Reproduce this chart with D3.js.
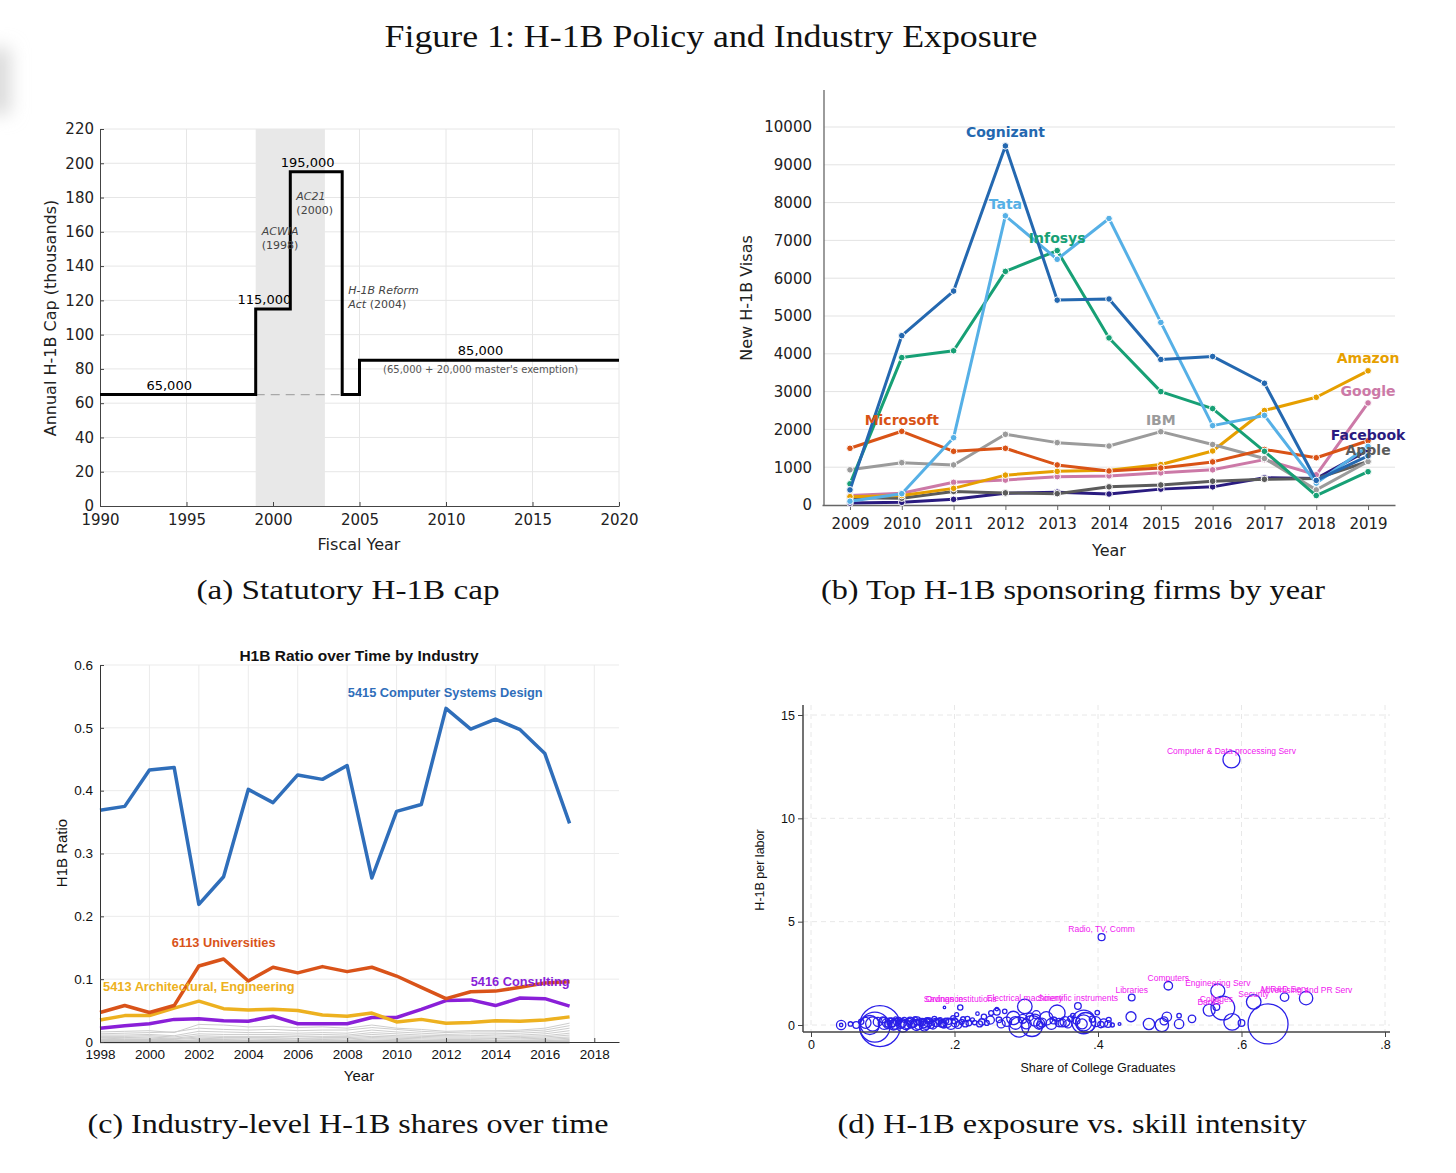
<!DOCTYPE html>
<html>
<head>
<meta charset="utf-8">
<script src="https://cdn.jsdelivr.net/npm/d3@7"></script>
<style>
  body { margin: 0; background: #fff; }
  svg { display: block; }
</style>
</head>
<body>
<svg id="fig" width="1456" height="1173"></svg>
<script>
// ---------- (a) statutory cap ----------
var capYears = [1990, 1999, 2001, 2004, 2005, 2020];
var capValues = [65, 115, 195, 65, 85, 85];
var capNotes = [
  { year: 1994, value: 65, text: "65,000" },
  { year: 1999.5, value: 115, text: "115,000" },
  { year: 2002, value: 195, text: "195,000" },
  { year: 2012, value: 85, text: "85,000" }
];
var lawNotes = [
  { year: 1999.35, value: 158, name: "ACWIA", when: "(1998)" },
  { year: 2001.35, value: 178.5, name: "AC21", when: "(2000)" },
  { year: 2004.35, value: 123.5, name: "H-1B Reform", when: "Act", when2: " (2004)" }
];

// ---------- (b) top sponsoring firms ----------
var firmYears = [2009, 2010, 2011, 2012, 2013, 2014, 2015, 2016, 2017, 2018, 2019];
var firms = ["Facebook", "Apple", "Google", "Amazon", "IBM", "Microsoft", "Infosys", "Tata", "Cognizant"];
var firmColors = ["#2a1b80", "#5b5b5b", "#cc79a7", "#e69f00", "#9b9b9b", "#d95316", "#17a075", "#56b0e6", "#2468b0"];
var facebook  = [50, 70, 150, 310, 340, 290, 420, 480, 720, 700, 1450];
var apple     = [190, 180, 360, 320, 300, 480, 530, 630, 680, 700, 1150];
var google    = [250, 310, 600, 660, 750, 770, 850, 930, 1200, 800, 2700];
var amazon    = [220, 250, 440, 790, 890, 920, 1070, 1430, 2500, 2850, 3550];
var ibm       = [930, 1120, 1060, 1870, 1650, 1560, 1940, 1600, 1230, 400, 1150];
var microsoft = [1500, 1950, 1420, 1500, 1060, 900, 980, 1140, 1470, 1250, 1700];
var infosys   = [560, 3900, 4080, 6180, 6730, 4420, 3000, 2550, 1420, 250, 880];
var tata      = [100, 300, 1780, 7650, 6500, 7580, 4830, 2100, 2370, 580, 1550];
var cognizant = [400, 4480, 5660, 9500, 5420, 5450, 3850, 3930, 3220, 650, 1300];
var firmSeries = [facebook, apple, google, amazon, ibm, microsoft, infosys, tata, cognizant];
var firmLabelYear  = [2019, 2019, 2019, 2019, 2015, 2010, 2013, 2012, 2012];
var firmLabelValue = [1850, 1450, 3020, 3890, 2250, 2250, 7060, 7960, 9870];

// ---------- (c) industry shares ----------
var indYears = d3.range(1998, 2018);
var compSys  = [0.369, 0.375, 0.433, 0.437, 0.219, 0.263, 0.402, 0.381, 0.425, 0.418, 0.440, 0.261, 0.367, 0.378, 0.531, 0.498, 0.514, 0.497, 0.459, 0.348];
var univ     = [0.047, 0.058, 0.047, 0.058, 0.121, 0.132, 0.097, 0.119, 0.110, 0.120, 0.112, 0.119, 0.105, 0.087, 0.069, 0.080, 0.081, 0.087, 0.094, 0.096];
var archEng  = [0.035, 0.042, 0.042, 0.054, 0.065, 0.053, 0.051, 0.052, 0.050, 0.043, 0.041, 0.046, 0.032, 0.036, 0.030, 0.031, 0.034, 0.033, 0.035, 0.040];
var consult  = [0.022, 0.026, 0.029, 0.036, 0.037, 0.034, 0.033, 0.041, 0.029, 0.029, 0.029, 0.039, 0.039, 0.052, 0.066, 0.067, 0.058, 0.070, 0.069, 0.057];
var otherInd = [
  [0.016, 0.017, 0.018, 0.015, 0.028, 0.027, 0.024, 0.025, 0.023, 0.024, 0.022, 0.027, 0.022, 0.020, 0.017, 0.018, 0.018, 0.019, 0.022, 0.030],
  [0.013, 0.014, 0.015, 0.016, 0.022, 0.020, 0.019, 0.020, 0.018, 0.019, 0.019, 0.023, 0.020, 0.017, 0.015, 0.016, 0.016, 0.017, 0.019, 0.026],
  [0.011, 0.011, 0.012, 0.010, 0.017, 0.016, 0.015, 0.015, 0.014, 0.015, 0.014, 0.019, 0.016, 0.014, 0.012, 0.013, 0.013, 0.014, 0.016, 0.022],
  [0.009, 0.009, 0.010, 0.008, 0.013, 0.012, 0.012, 0.012, 0.011, 0.012, 0.011, 0.015, 0.013, 0.011, 0.010, 0.010, 0.011, 0.011, 0.013, 0.018],
  [0.007, 0.007, 0.008, 0.006, 0.010, 0.009, 0.009, 0.009, 0.009, 0.009, 0.009, 0.012, 0.010, 0.009, 0.008, 0.008, 0.008, 0.009, 0.010, 0.014],
  [0.005, 0.006, 0.006, 0.005, 0.008, 0.007, 0.007, 0.007, 0.006, 0.007, 0.007, 0.009, 0.008, 0.007, 0.006, 0.006, 0.006, 0.007, 0.008, 0.011],
  [0.004, 0.004, 0.004, 0.004, 0.006, 0.005, 0.005, 0.005, 0.005, 0.005, 0.005, 0.007, 0.006, 0.005, 0.004, 0.004, 0.005, 0.005, 0.006, 0.008],
  [0.003, 0.003, 0.003, 0.002, 0.004, 0.004, 0.003, 0.004, 0.003, 0.004, 0.003, 0.005, 0.004, 0.003, 0.003, 0.003, 0.003, 0.003, 0.004, 0.006],
  [0.002, 0.002, 0.002, 0.001, 0.002, 0.002, 0.002, 0.002, 0.002, 0.002, 0.002, 0.003, 0.002, 0.002, 0.002, 0.002, 0.002, 0.002, 0.002, 0.004],
  [0.001, 0.001, 0.001, 0.001, 0.001, 0.001, 0.001, 0.001, 0.001, 0.001, 0.001, 0.001, 0.001, 0.001, 0.001, 0.001, 0.001, 0.001, 0.001, 0.002]
];
var mainInd = [
  { name: "5415 Computer Systems Design", values: compSys, color: "#2f6eba", ly: 2011.97, lv: 0.557 },
  { name: "6113 Universities", values: univ, color: "#d95319", ly: 2003, lv: 0.158 },
  { name: "5413 Architectural, Engineering", values: archEng, color: "#edb120", ly: 2002, lv: 0.089 },
  { name: "5416 Consulting", values: consult, color: "#8a1fd8", ly: 2015, lv: 0.0955 }
];

// ---------- (d) exposure vs skill ----------
// share of college graduates, H-1B per labor, weight (employment)
var skillShare = [0.586, 0.405, 0.498, 0.567, 0.447, 0.617, 0.660, 0.690, 0.555, 0.565, 0.298, 0.372, 0.186, 0.208,
  0.637, 0.574, 0.587, 0.600, 0.471, 0.489, 0.492, 0.496, 0.513, 0.513, 0.531, 0.446, 0.430,
  0.096, 0.089, 0.082, 0.380, 0.380, 0.378, 0.383, 0.397, 0.408, 0.414, 0.328, 0.343, 0.354,
  0.282, 0.273, 0.259, 0.250, 0.241, 0.312, 0.319, 0.290, 0.308, 0.042, 0.042, 0.055, 0.063, 0.070,
  0.105, 0.110, 0.115, 0.120, 0.125, 0.130, 0.135, 0.140, 0.145, 0.150, 0.155, 0.160, 0.165, 0.170,
  0.175, 0.180, 0.185, 0.190, 0.195, 0.200, 0.205, 0.210, 0.215, 0.100, 0.118, 0.128, 0.148, 0.158,
  0.172, 0.188, 0.198, 0.203, 0.220, 0.225, 0.232, 0.235, 0.245, 0.251, 0.259, 0.265, 0.270, 0.300,
  0.322, 0.335, 0.350, 0.362, 0.365, 0.358, 0.370, 0.399, 0.415, 0.420, 0.314, 0.108, 0.113, 0.138,
  0.143, 0.163, 0.178, 0.183, 0.212, 0.228,
  0.076, 0.086, 0.093, 0.102, 0.107, 0.112, 0.117, 0.122, 0.127, 0.132, 0.137, 0.142, 0.147, 0.152,
  0.157, 0.162, 0.167, 0.174, 0.182, 0.192, 0.201, 0.218, 0.238, 0.262, 0.285, 0.295, 0.305, 0.318,
  0.338, 0.346, 0.392, 0.404];
var h1bPerLabor = [12.85, 4.25, 1.90, 1.65, 1.33, 1.12, 1.35, 1.30, 0.72, 0.87, 0.90, 0.92, 0.85, 0.85,
  0.05, 0.82, 0.15, 0.10, 0.05, 0.00, 0.20, 0.40, 0.45, 0.05, 0.30, 0.40, 0.05,
  -0.05, -0.10, 0.00, 0.15, 0.10, 0.05, 0.12, 0.16, 0.10, 0.05, 0.32, 0.58, 0.16,
  0.34, 0.16, 0.64, 0.24, 0.40, 0.24, 0.00, -0.10, -0.05, 0.00, 0.00, 0.05, 0.00, 0.16,
  0.10, 0.20, 0.00, 0.15, 0.05, 0.25, 0.00, 0.10, 0.30, 0.00, 0.15, 0.05, 0.20, 0.00,
  0.10, 0.25, 0.00, 0.10, 0.05, 0.20, 0.00, 0.15, 0.05, 0.25, 0.30, -0.05, 0.20, -0.05,
  0.30, 0.20, 0.35, 0.50, 0.10, 0.25, 0.55, 0.05, 0.10, 0.58, 0.77, 0.05, 0.66, 0.05,
  0.12, 0.05, 0.10, 0.30, 0.45, 0.05, 0.20, 0.60, 0.25, 0.00, 0.50, 0.05, 0.12, 0.20,
  0.05, 0.12, 0.18, 0.08, 0.28, 0.12,
  0.10, 0.05, 0.15, 0.08, 0.00, 0.12, 0.05, 0.22, 0.10, 0.02, 0.18, 0.06, 0.00, 0.14,
  0.08, 0.22, 0.02, 0.12, 0.06, 0.18, 0.10, 0.30, 0.15, 0.25, 0.10, 0.30, 0.40, 0.06,
  0.22, 0.12, 0.28, 0.02];
var employment = [72, 12, 18, 49, 11, 53, 18, 45, 36, 11, 53, 11, 1.5, 7,
  400, 140, 69, 11, 32, 45, 16, 22, 5, 22, 14, 25, 2,
  420, 225, 90, 140, 64, 25, 100, 25, 16, 11, 45, 64, 25,
  45, 22, 11, 16, 7, 36, 11, 100, 110, 22, 3, 5, 11, 7,
  16, 9, 25, 12, 20, 6, 16, 25, 5, 20, 12, 30, 9, 16,
  12, 5, 9, 20, 30, 9, 12, 6, 9, 9, 4, 36, 16, 25,
  6, 8, 5, 4, 8, 4, 3, 9, 6, 6, 3, 16, 5, 25,
  20, 30, 16, 9, 5, 16, 12, 5, 6, 4, 16, 12, 20, 14,
  10, 18, 9, 14, 6, 5,
  30, 50, 20, 36, 14, 20, 28, 10, 18, 24, 9, 16, 30, 12,
  20, 8, 14, 18, 12, 10, 16, 6, 10, 8, 40, 20, 14, 30,
  12, 18, 9, 10];
var industryLabels = ["Computer & Data processing Serv", "Radio, TV, Comm", "Computers", "Engineering Serv",
  "Libraries", "Security", "M R&D Serv", "Advertising and PR Serv", "Banks", "Colleges",
  "Electrical machinery", "Scientific instruments", "Ordnance", "Savings institutions"];

// ---------------------------------------------------------------
var svg = d3.select("#fig");
var serif = "'Liberation Serif', 'DejaVu Serif', serif";
var dejavu = "'DejaVu Sans', sans-serif";
var arial = "'Liberation Sans', Arial, sans-serif";

// faint shadow on the left edge
var defs = svg.append("defs");
defs.append("filter").attr("id", "soft").attr("x", "-100%").attr("y", "-100%").attr("width", "300%").attr("height", "300%")
  .append("feGaussianBlur").attr("stdDeviation", 9);
svg.append("rect").attr("x", -14).attr("y", 48).attr("width", 24).attr("height", 66)
  .attr("fill", "#d9d9d9").attr("filter", "url(#soft)");

svg.append("text")
  .attr("x", 711).attr("y", 47).attr("text-anchor", "middle")
  .attr("textLength", 653).attr("lengthAdjust", "spacingAndGlyphs")
  .style("font-family", serif).style("font-size", "31px").style("fill", "#111")
  .text("Figure 1: H-1B Policy and Industry Exposure");

var captions = [
  { text: "(a) Statutory H-1B cap", x: 348, y: 599, w: 303 },
  { text: "(b) Top H-1B sponsoring firms by year", x: 1073, y: 599, w: 504 },
  { text: "(c) Industry-level H-1B shares over time", x: 348, y: 1133, w: 521 },
  { text: "(d) H-1B exposure vs. skill intensity", x: 1072, y: 1133, w: 469 }
];
svg.selectAll("text.caption").data(captions).join("text")
  .attr("class", "caption")
  .attr("x", function(d) { return d.x; }).attr("y", function(d) { return d.y; })
  .attr("text-anchor", "middle")
  .attr("textLength", function(d) { return d.w; }).attr("lengthAdjust", "spacingAndGlyphs")
  .style("font-family", serif).style("font-size", "27px").style("fill", "#111")
  .text(function(d) { return d.text; });

function styleAxis(g, font, size, color) {
  g.selectAll("text").style("font-family", font).style("font-size", size).style("fill", color || "#222");
  g.select(".domain").attr("stroke", "#444");
  g.selectAll(".tick line").attr("stroke", "#444");
}

// ================= panel (a) =================
(function() {
  var x = d3.scaleLinear().domain([1990, 2020]).range([100, 619]);
  var y = d3.scaleLinear().domain([0, 220]).range([506, 129]);
  var g = svg.append("g");

  g.selectAll("line.gy").data(d3.range(20, 221, 20)).join("line")
    .attr("x1", x(1990)).attr("x2", x(2020))
    .attr("y1", function(d) { return y(d); }).attr("y2", function(d) { return y(d); })
    .attr("stroke", "#e6e6e6");
  g.selectAll("line.gx").data(d3.range(1995, 2021, 5)).join("line")
    .attr("y1", y(0)).attr("y2", y(220))
    .attr("x1", function(d) { return x(d); }).attr("x2", function(d) { return x(d); })
    .attr("stroke", "#e6e6e6");

  g.append("rect")
    .attr("x", x(1999)).attr("width", x(2003) - x(1999))
    .attr("y", y(220)).attr("height", y(0) - y(220))
    .attr("fill", "#e8e8e8");

  var ax = g.append("g").attr("transform", "translate(0," + y(0) + ")")
    .call(d3.axisBottom(x).tickValues(d3.range(1990, 2021, 5)).tickFormat(d3.format("d")).tickSize(-4).tickPadding(8).tickSizeOuter(0));
  styleAxis(ax, dejavu, "15px");
  var ay = g.append("g").attr("transform", "translate(" + x(1990) + ",0)")
    .call(d3.axisLeft(y).tickValues(d3.range(0, 221, 20)).tickSize(-4).tickPadding(6).tickSizeOuter(0));
  styleAxis(ay, dejavu, "15px");

  g.append("line")
    .attr("x1", x(1999)).attr("x2", x(2004)).attr("y1", y(65)).attr("y2", y(65))
    .attr("stroke", "#a8a8a8").attr("stroke-width", 1.3).attr("stroke-dasharray", "9,6");

  var pts = capYears.map(function(yr, i) { return [yr, capValues[i]]; });
  g.append("path").datum(pts)
    .attr("d", d3.line().x(function(d) { return x(d[0]); }).y(function(d) { return y(d[1]); }).curve(d3.curveStepAfter))
    .attr("fill", "none").attr("stroke", "#000").attr("stroke-width", 3);

  g.selectAll("text.cap").data(capNotes).join("text")
    .attr("x", function(d) { return x(d.year); }).attr("y", function(d) { return y(d.value) - 5; })
    .attr("text-anchor", "middle")
    .style("font-family", dejavu).style("font-size", "13px").style("fill", "#000")
    .text(function(d) { return d.text; });
  g.append("text")
    .attr("x", x(2012)).attr("y", y(85) + 13).attr("text-anchor", "middle")
    .style("font-family", dejavu).style("font-size", "10px").style("fill", "#555")
    .text("(65,000 + 20,000 master's exemption)");

  lawNotes.forEach(function(d) {
    var t1 = g.append("text").attr("x", x(d.year)).attr("y", y(d.value))
      .style("font-family", dejavu).style("font-size", "11px").style("fill", "#444");
    t1.append("tspan").style("font-style", "italic").text(d.name);
    var t2 = g.append("text").attr("x", x(d.year)).attr("y", y(d.value) + 14)
      .style("font-family", dejavu).style("font-size", "11px").style("fill", "#444");
    if (d.when2) {
      t2.append("tspan").style("font-style", "italic").text(d.when);
      t2.append("tspan").text(d.when2);
    } else {
      t2.text(d.when);
    }
  });

  g.append("text")
    .attr("transform", "translate(56," + 318 + ") rotate(-90)")
    .attr("text-anchor", "middle")
    .style("font-family", dejavu).style("font-size", "16px").style("fill", "#222")
    .text("Annual H-1B Cap (thousands)");
  g.append("text")
    .attr("x", 359).attr("y", 550).attr("text-anchor", "middle")
    .style("font-family", dejavu).style("font-size", "16px").style("fill", "#222")
    .text("Fiscal Year");
})();

// ================= panel (b) =================
(function() {
  var x = d3.scaleLinear().domain([2008.46, 2019.52]).range([822, 1395]);
  var y = d3.scaleLinear().domain([0, 10000]).range([505, 127]);
  var g = svg.append("g");

  g.selectAll("line.gy").data(d3.range(1000, 10001, 1000)).join("line")
    .attr("x1", 824).attr("x2", 1395)
    .attr("y1", function(d) { return y(d); }).attr("y2", function(d) { return y(d); })
    .attr("stroke", "#e3e3e3").attr("stroke-width", 1);

  var ax = g.append("g").attr("transform", "translate(0," + y(0) + ")")
    .call(d3.axisBottom(x).tickValues(firmYears).tickFormat(d3.format("d")).tickSize(5).tickPadding(8).tickSizeOuter(0));
  styleAxis(ax, dejavu, "15px");
  ax.select(".domain").attr("stroke", "#666").attr("stroke-width", 1.3);
  ax.selectAll(".tick line").attr("stroke", "#666");

  var ay = g.append("g").attr("transform", "translate(824,0)")
    .call(d3.axisLeft(y).tickValues(d3.range(0, 10001, 1000)).tickFormat(d3.format("d")).tickSize(0).tickPadding(12));
  styleAxis(ay, dejavu, "15px");
  ay.select(".domain").remove();
  g.append("line").attr("x1", 824).attr("x2", 824).attr("y1", 90).attr("y2", y(0))
    .attr("stroke", "#666").attr("stroke-width", 1.3);

  var line = d3.line().x(function(d) { return x(d[0]); }).y(function(d) { return y(d[1]); });
  firms.forEach(function(name, i) {
    var pts = firmYears.map(function(yr, j) { return [yr, firmSeries[i][j]]; });
    var s = g.append("g");
    s.append("path").datum(pts).attr("d", line)
      .attr("fill", "none").attr("stroke", firmColors[i]).attr("stroke-width", 3)
      .attr("stroke-linejoin", "round");
    s.selectAll("circle").data(pts).join("circle")
      .attr("cx", function(d) { return x(d[0]); }).attr("cy", function(d) { return y(d[1]); })
      .attr("r", 3.3).attr("fill", firmColors[i]).attr("stroke", "#fff").attr("stroke-width", 1);
  });
  firms.forEach(function(name, i) {
    g.append("text")
      .attr("x", x(firmLabelYear[i])).attr("y", y(firmLabelValue[i]))
      .attr("text-anchor", "middle").attr("dominant-baseline", "central")
      .style("font-family", dejavu).style("font-size", "14px").style("font-weight", "bold")
      .style("fill", firmColors[i])
      .text(name);
  });

  g.append("text")
    .attr("transform", "translate(752,298) rotate(-90)")
    .attr("text-anchor", "middle")
    .style("font-family", dejavu).style("font-size", "16px").style("fill", "#222")
    .text("New H-1B Visas");
  g.append("text")
    .attr("x", 1109).attr("y", 556).attr("text-anchor", "middle")
    .style("font-family", dejavu).style("font-size", "16px").style("fill", "#222")
    .text("Year");
})();

// ================= panel (c) =================
(function() {
  var x = d3.scaleLinear().domain([1998, 2019]).range([100, 619]);
  var y = d3.scaleLinear().domain([0, 0.6]).range([1042, 665]);
  var g = svg.append("g");

  g.selectAll("line.gy").data(d3.range(1, 7).map(function(d) { return d / 10; })).join("line")
    .attr("x1", x(1998)).attr("x2", x(2019))
    .attr("y1", function(d) { return y(d); }).attr("y2", function(d) { return y(d); })
    .attr("stroke", "#ebebeb");
  g.selectAll("line.gx").data(d3.range(2000, 2019, 2)).join("line")
    .attr("y1", y(0)).attr("y2", y(0.6))
    .attr("x1", function(d) { return x(d); }).attr("x2", function(d) { return x(d); })
    .attr("stroke", "#ebebeb");

  var line = d3.line().x(function(d) { return x(d[0]); }).y(function(d) { return y(d[1]); });
  otherInd.forEach(function(vals) {
    g.append("path").datum(indYears.map(function(yr, j) { return [yr, vals[j]]; }))
      .attr("d", line).attr("fill", "none").attr("stroke", "#cdcdcd").attr("stroke-width", 1);
  });
  // thick floor of near-zero industries
  g.append("path").datum(indYears.map(function(yr) { return [yr, 0]; }))
    .attr("d", line).attr("fill", "none").attr("stroke", "#c4c4c4").attr("stroke-width", 3);

  mainInd.slice().reverse().forEach(function(s) {
    g.append("path").datum(indYears.map(function(yr, j) { return [yr, s.values[j]]; }))
      .attr("d", line).attr("fill", "none").attr("stroke", s.color).attr("stroke-width", 3.5)
      .attr("stroke-linejoin", "round");
  });

  var ax = g.append("g").attr("transform", "translate(0," + y(0) + ")")
    .call(d3.axisBottom(x).tickValues(d3.range(1998, 2019, 2)).tickFormat(d3.format("d")).tickSize(-4).tickPadding(7).tickSizeOuter(0));
  styleAxis(ax, arial, "13.5px", "#111");
  ax.select(".domain").attr("stroke", "#333");
  var ay = g.append("g").attr("transform", "translate(" + x(1998) + ",0)")
    .call(d3.axisLeft(y).tickValues([0, 0.1, 0.2, 0.3, 0.4, 0.5, 0.6]).tickFormat(function(d) { return d === 0 ? "0" : d3.format(".1f")(d); }).tickSize(-4).tickPadding(7).tickSizeOuter(0));
  styleAxis(ay, arial, "13.5px", "#111");
  ay.select(".domain").attr("stroke", "#333");

  mainInd.forEach(function(s) {
    g.append("text")
      .attr("x", x(s.ly)).attr("y", y(s.lv))
      .attr("text-anchor", "middle").attr("dominant-baseline", "central")
      .style("font-family", arial).style("font-size", "12.8px").style("font-weight", "bold")
      .style("fill", s.color)
      .text(s.name);
  });

  g.append("text")
    .attr("x", 359).attr("y", 661).attr("text-anchor", "middle")
    .style("font-family", arial).style("font-size", "15.5px").style("font-weight", "bold").style("fill", "#111")
    .text("H1B Ratio over Time by Industry");
  g.append("text")
    .attr("transform", "translate(67,853) rotate(-90)")
    .attr("text-anchor", "middle")
    .style("font-family", arial).style("font-size", "15px").style("fill", "#111")
    .text("H1B Ratio");
  g.append("text")
    .attr("x", 359).attr("y", 1081).attr("text-anchor", "middle")
    .style("font-family", arial).style("font-size", "15px").style("fill", "#111")
    .text("Year");
})();

// ================= panel (d) =================
(function() {
  var x = d3.scaleLinear().domain([0, 0.8]).range([811, 1385]);
  var y = d3.scaleLinear().domain([0, 15]).range([1025, 715]);
  var r = d3.scaleSqrt().domain([0, 400]).range([0, 20]);
  var g = svg.append("g");

  g.selectAll("line.gx").data([0, 0.2, 0.4, 0.6, 0.8]).join("line")
    .attr("x1", function(d) { return x(d); }).attr("x2", function(d) { return x(d); })
    .attr("y1", 705).attr("y2", 1032)
    .attr("stroke", "#e8e8e8").attr("stroke-dasharray", "5,4");
  g.selectAll("line.gy").data([0, 5, 10, 15]).join("line")
    .attr("x1", 803).attr("x2", 1390)
    .attr("y1", function(d) { return y(d); }).attr("y2", function(d) { return y(d); })
    .attr("stroke", "#e8e8e8").attr("stroke-dasharray", "5,4");

  var pts = skillShare.map(function(s, i) { return { x: s, y: h1bPerLabor[i], w: employment[i] }; });
  g.selectAll("circle").data(pts).join("circle")
    .attr("cx", function(d) { return x(d.x); }).attr("cy", function(d) { return y(d.y); })
    .attr("r", function(d) { return r(d.w); })
    .attr("fill", "none").attr("stroke", "#2a1fe8").attr("stroke-width", 1.3);

  // labels overlap in the original Stata output; kept as drawn there
  g.selectAll("text.lab").data(industryLabels).join("text")
    .attr("x", function(d, i) { return x(skillShare[i]); })
    .attr("y", function(d, i) { return y(h1bPerLabor[i]) - 8; })
    .attr("text-anchor", "middle").attr("dominant-baseline", "central")
    .style("font-family", arial).style("font-size", "8.5px").style("fill", "#f020f0")
    .text(function(d) { return d; });

  g.append("line").attr("x1", 803).attr("x2", 803).attr("y1", 705).attr("y2", 1032)
    .attr("stroke", "#444").attr("stroke-width", 1.5);
  g.append("line").attr("x1", 803).attr("x2", 1390).attr("y1", 1032).attr("y2", 1032)
    .attr("stroke", "#444").attr("stroke-width", 1.5);

  var ay = g.append("g").attr("transform", "translate(803,0)")
    .call(d3.axisLeft(y).tickValues([0, 5, 10, 15]).tickSize(5).tickPadding(3));
  ay.select(".domain").remove();
  styleAxis(ay, arial, "12.5px", "#111");
  var ax = g.append("g").attr("transform", "translate(0,1032)")
    .call(d3.axisBottom(x).tickValues([0, 0.2, 0.4, 0.6, 0.8]).tickFormat(function(d) { return d === 0 ? "0" : d3.format(".1f")(d).replace("0.", "."); }).tickSize(5).tickPadding(3));
  ax.select(".domain").remove();
  styleAxis(ax, arial, "12.5px", "#111");

  g.append("text")
    .attr("transform", "translate(764,870) rotate(-90)")
    .attr("text-anchor", "middle")
    .style("font-family", arial).style("font-size", "12.5px").style("fill", "#111")
    .text("H-1B per labor");
  g.append("text")
    .attr("x", 1098).attr("y", 1072).attr("text-anchor", "middle")
    .style("font-family", arial).style("font-size", "12.5px").style("fill", "#111")
    .text("Share of College Graduates");
})();
</script>
</body>
</html>
